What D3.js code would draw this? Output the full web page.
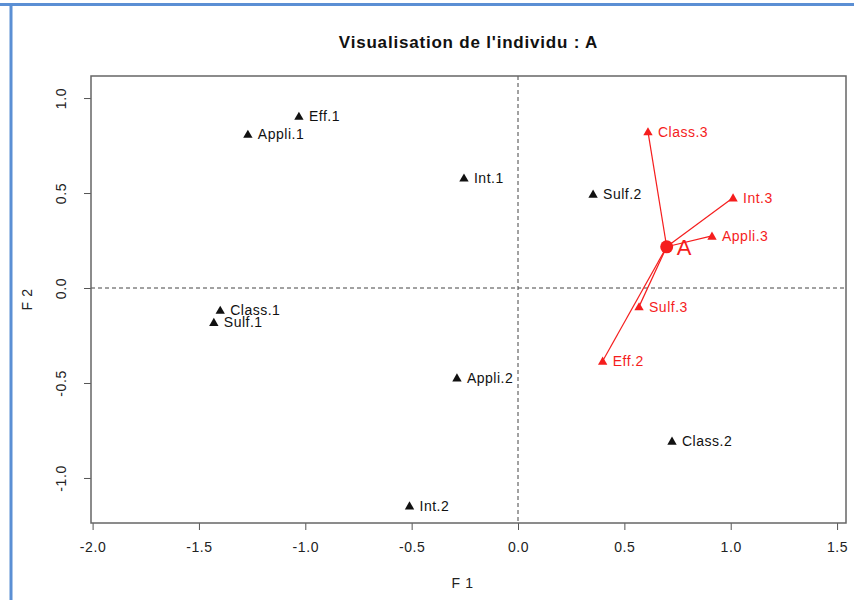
<!DOCTYPE html>
<html>
<head>
<meta charset="utf-8">
<script src="https://cdn.jsdelivr.net/npm/d3@7"></script>
<style>
  body { margin: 0; background: #fff; }
  svg { display: block; font-family: "Liberation Sans", Arial, Helvetica, sans-serif; }
</style>
</head>
<body>
<svg id="chart" width="854" height="600"></svg>
<script>
const width = 854
const height = 600

// modalities (black = other individuals' answers, red = individual A's answers)
const otherLabels = ['Eff.1', 'Appli.1', 'Int.1', 'Sulf.2', 'Class.1', 'Sulf.1', 'Appli.2', 'Int.2', 'Class.2']
const otherF1 = [-1.03, -1.27, -0.254, 0.353, -1.40, -1.43, -0.287, -0.51, 0.724]
const otherF2 = [0.905, 0.81, 0.58, 0.495, -0.116, -0.18, -0.472, -1.146, -0.805]

const activeLabels = ['Class.3', 'Int.3', 'Appli.3', 'Sulf.3', 'Eff.2']
const activeF1 = [0.611, 1.011, 0.912, 0.569, 0.398]
const activeF2 = [0.823, 0.475, 0.274, -0.098, -0.384]

const indivName = 'A'
const indivF1 = 0.699
const indivF2 = 0.217

const xTicks = [-2.0, -1.5, -1.0, -0.5, 0.0, 0.5, 1.0, 1.5]
const yTicks = [-1.0, -0.5, 0.0, 0.5, 1.0]

const box = { left: 91, right: 846, top: 76, bottom: 523 }

const x = d3.scaleLinear().domain([-2.0075, 1.542]).range([box.left, box.right])
const y = d3.scaleLinear().domain([-1.237, 1.116]).range([box.bottom, box.top])

const svg = d3.select('#chart')

// blue frame of the screenshot
svg.append('line').attr('x1', 0).attr('x2', width).attr('y1', 4.5).attr('y2', 4.5)
  .attr('stroke', '#5b8fd4').attr('stroke-width', 3)
svg.append('line').attr('x1', 11).attr('x2', 11).attr('y1', 3).attr('y2', height)
  .attr('stroke', '#5b8fd4').attr('stroke-width', 3)

// title
svg.append('text')
  .attr('x', (box.left + box.right) / 2)
  .attr('y', 48)
  .attr('text-anchor', 'middle')
  .style('font-size', '17px')
  .style('font-weight', 'bold')
  .style('letter-spacing', '0.8px')
  .attr('fill', '#111')
  .text("Visualisation de l'individu : A")

// dashed reference lines
svg.append('line')
  .attr('x1', x(0)).attr('x2', x(0)).attr('y1', box.top).attr('y2', box.bottom)
  .attr('stroke', '#444').attr('stroke-dasharray', '4,3')
svg.append('line')
  .attr('x1', box.left).attr('x2', box.right).attr('y1', y(0)).attr('y2', y(0))
  .attr('stroke', '#444').attr('stroke-dasharray', '4,3')

// axes
const fmt = (d) => d.toFixed(1)
const xAxis = svg.append('g')
  .attr('transform', `translate(0,${box.bottom})`)
  .call(d3.axisBottom(x).tickValues(xTicks).tickFormat(fmt).tickSize(7).tickPadding(12))
xAxis.select('.domain').remove()
xAxis.selectAll('line').attr('stroke', '#555')
xAxis.selectAll('text').style('font-size', '14px').style('letter-spacing', '0.6px')
  .attr('fill', '#222').attr('font-family', null)

const yAxis = svg.append('g')
  .attr('transform', `translate(${box.left},0)`)
  .call(d3.axisLeft(y).tickValues(yTicks).tickFormat(fmt).tickSize(7))
yAxis.select('.domain').remove()
yAxis.selectAll('line').attr('stroke', '#555')
yAxis.selectAll('text')
  .attr('x', null).attr('dy', null)
  .attr('text-anchor', 'middle')
  .attr('transform', 'translate(-24,0) rotate(-90)')
  .attr('dy', '-0.1em')
  .style('font-size', '14px').style('letter-spacing', '0.6px')
  .attr('fill', '#222').attr('font-family', null)

// plot box
svg.append('rect')
  .attr('x', box.left).attr('y', box.top)
  .attr('width', box.right - box.left).attr('height', box.bottom - box.top)
  .attr('fill', 'none').attr('stroke', '#666').attr('stroke-width', 1.5)

// axis titles
svg.append('text')
  .attr('x', (box.left + box.right) / 2 - 6).attr('y', 588)
  .attr('text-anchor', 'middle').style('font-size', '14px').style('letter-spacing', '0.6px')
  .attr('fill', '#222')
  .text('F 1')
svg.append('text')
  .attr('transform', `translate(32,${(box.top + box.bottom) / 2}) rotate(-90)`)
  .attr('text-anchor', 'middle').style('font-size', '14px').style('letter-spacing', '0.6px')
  .attr('fill', '#222')
  .text('F 2')

const tri = d3.symbol().type(d3.symbolTriangle).size(38)

// links from A to its modalities
const red = '#f51d1d'
svg.append('g').selectAll('line')
  .data(activeLabels)
  .join('line')
  .attr('x1', x(indivF1)).attr('y1', y(indivF2))
  .attr('x2', (d, i) => x(activeF1[i]))
  .attr('y2', (d, i) => y(activeF2[i]))
  .attr('stroke', red).attr('stroke-width', 1.2)

const drawPoints = (labels, xs, ys, color) => {
  const g = svg.append('g').selectAll('g')
    .data(labels)
    .join('g')
    .attr('transform', (d, i) => `translate(${x(xs[i])},${y(ys[i])})`)
  g.append('path').attr('d', tri).attr('fill', color).attr('transform', 'translate(0,1)')
  g.append('text')
    .attr('x', 10).attr('dy', '0.36em')
    .style('font-size', '14px')
    .style('letter-spacing', '0.5px')
    .attr('fill', color)
    .text((d) => d)
}

drawPoints(otherLabels, otherF1, otherF2, '#111')
drawPoints(activeLabels, activeF1, activeF2, red)

// individual A
svg.append('circle')
  .attr('cx', x(indivF1)).attr('cy', y(indivF2)).attr('r', 6.5)
  .attr('fill', red)
svg.append('text')
  .attr('x', x(indivF1) + 10).attr('y', y(indivF2)).attr('dy', '0.36em')
  .style('font-size', '22px').attr('fill', red)
  .text(indivName)
</script>
</body>
</html>
